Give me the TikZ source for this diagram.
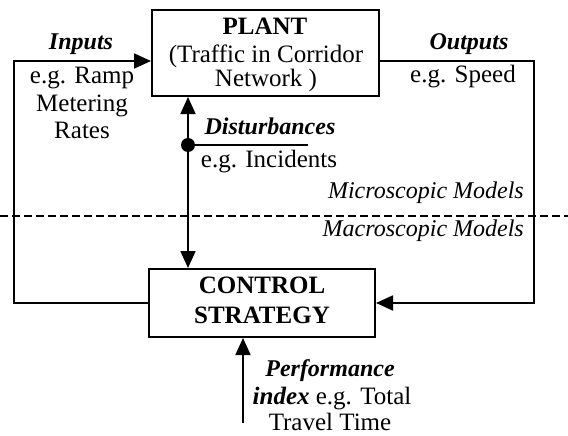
\documentclass[tikz,border=0pt]{standalone}
\usepackage{fontspec}
\setmainfont{Liberation Serif}
\usetikzlibrary{arrows.meta}
\begin{document}
\begin{tikzpicture}[x=1pt,y=-1pt,
  box/.style={draw, line width=2pt, inner sep=0pt},
  txt/.style={anchor=base, inner sep=0pt, font=\fontsize{25}{26}\selectfont},
  btxt/.style={txt, font=\fontsize{25}{26}\selectfont\bfseries},
  bitxt/.style={txt, font=\fontsize{24}{26}\selectfont\bfseries\itshape},
  itxt/.style={anchor=base east, inner sep=0pt, font=\fontsize{24}{26}\selectfont\itshape},
  wire/.style={line width=1.8pt},
  arr/.style={wire, -{Triangle[length=17pt,width=15pt]}},
  arrb/.style={wire, {Triangle[length=17pt,width=15pt]}-{Triangle[length=17pt,width=15pt]}}]
\useasboundingbox (0,0) rectangle (568,436);

% boxes
\node[box, minimum width=227pt, minimum height=86pt] (plant) at (265.5,53) {};
\node[box, minimum width=226pt, minimum height=68pt] (control) at (262,303) {};

% plant text
\node[btxt] (pl1) at (265,35) {PLANT};
\node[txt] (pl2) at (266,63) {(Traffic in Corridor};
\node[txt] (pl3) at (266,87) {Network )};

% control text
\node[btxt] (ct1) at (262,293) {CONTROL};
\node[btxt] (ct2) at (262,323) {STRATEGY};

% coordinates
\coordinate (inL) at (14,61);
\coordinate (outR) at (534,61);
\coordinate (dx) at (188,145);
\coordinate (dEnd) at (308,145);
\coordinate (perfS) at (243,423);
\coordinate (dashL) at (0,216);
\coordinate (dashR) at (568,216);

% connectors
\draw[arr] (control.west) -| (inL) -- (plant.west |- inL);
\draw[arr] (plant.east |- outR) -- (outR) |- (control.east);
\draw[arrb] (plant.south -| dx) -- (control.north -| dx);
\fill (dx) circle (7pt);
\draw[wire] (dx) -- (dEnd);
\draw[arr] (perfS) -- (control.south -| perfS);
\draw[line width=1.4pt, dash pattern=on 8pt off 4pt] (dashL) -- (dashR);

% inputs
\node[bitxt] (in1) at (81,50) {Inputs};
\node[txt] (in2) at (82,84) {e.g. Ramp};
\node[txt] (in3) at (82,111) {Metering};
\node[txt] (in4) at (82,138) {Rates};

% outputs
\node[bitxt] (out1) at (469,50) {Outputs};
\node[txt] (out2) at (463,83) {e.g. Speed};

% disturbances
\node[bitxt] (d1) at (270,134) {Disturbances};
\node[txt] (d2) at (269,167) {e.g. Incidents};

% models
\node[itxt] (mic) at (524,198) {Microscopic Models};
\node[itxt] (mac) at (524,236) {Macroscopic Models};

% performance
\node[bitxt] (p1) at (330,376) {Performance};
\node[txt] (p2) at (332,404) {\textbf{\textit{index}} e.g. Total};
\node[txt] (p3) at (330,430) {Travel Time};
\end{tikzpicture}
\end{document}
